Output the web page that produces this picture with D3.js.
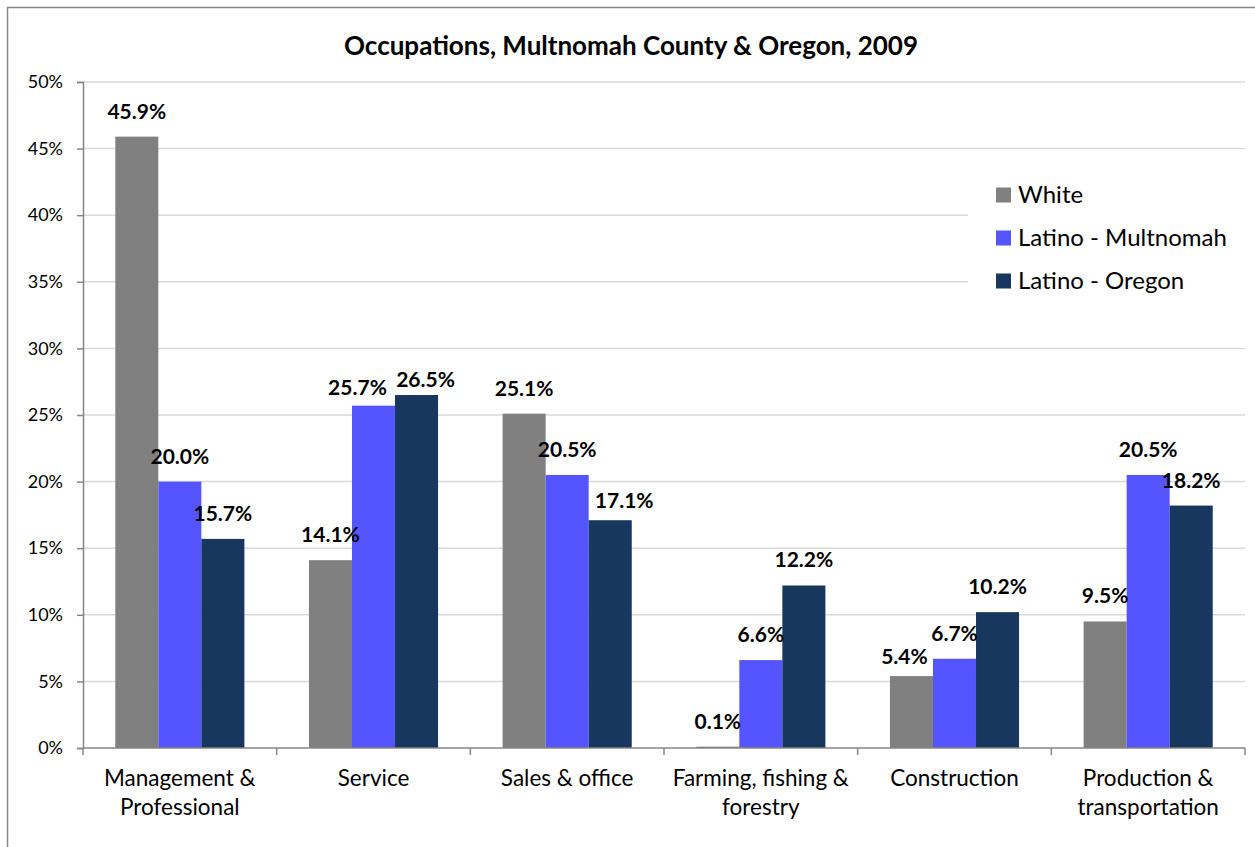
<html>
<head>
<style>
  body { margin: 0; background: #fff; }
  svg text { font-family: Lato, "Open Sans", sans-serif; fill: #000; }
</style>
</head>
<body>
<svg id="chart" width="1255" height="847"></svg>
<script src="https://cdnjs.cloudflare.com/ajax/libs/d3/7.8.5/d3.min.js"></script>
<script>
  // data
  var categories = ["Management & Professional", "Service", "Sales & office",
                    "Farming, fishing & forestry", "Construction", "Production & transportation"];
  var categoryLines = [["Management &", "Professional"], ["Service"], ["Sales & office"],
                       ["Farming, fishing &", "forestry"], ["Construction"], ["Production &", "transportation"]];
  var seriesNames = ["White", "Latino - Multnomah", "Latino - Oregon"];
  var white = [45.9, 14.1, 25.1, 0.1, 5.4, 9.5];
  var latinoMultnomah = [20.0, 25.7, 20.5, 6.6, 6.7, 20.5];
  var latinoOregon = [15.7, 26.5, 17.1, 12.2, 10.2, 18.2];
  var yTicks = [0, 5, 10, 15, 20, 25, 30, 35, 40, 45, 50];

  var colors = ["#808080", "#5555ff", "#17375e"];
  // hand-moved data labels in the original (dx, dy in px)
  var labelNudge = {"1|1": [-16, 7], "2|1": [9, 10], "2|2": [14, 6], "0|4": [-7, 6]};

  var values = [white, latinoMultnomah, latinoOregon];
  var svg = d3.select("#chart");

  // chart frame
  svg.append("rect").attr("x", 7.5).attr("y", 7.5).attr("width", 1270).attr("height", 900)
    .attr("fill", "none").attr("stroke", "#878787").attr("stroke-width", 1.5);

  var x0 = d3.scaleBand().domain(categories).range([83, 1245]).padding(0);
  var x1 = d3.scaleBand().domain(seriesNames).range([0, x0.bandwidth()]).paddingInner(0).paddingOuter(0.75);
  var y = d3.scaleLinear().domain([0, 50]).range([748, 82]);

  // gridlines
  svg.append("g").selectAll("line").data(yTicks.slice(1)).enter().append("line")
    .attr("x1", 83).attr("x2", 1245)
    .attr("y1", d => y(d)).attr("y2", d => y(d))
    .attr("stroke", "#d9d9d9").attr("stroke-width", 1.5);

  // y axis
  var yAxis = svg.append("g").attr("transform", "translate(83,0)")
    .call(d3.axisLeft(y).tickValues(yTicks).tickSize(6).tickPadding(14).tickFormat(d => d + "%"));
  yAxis.select(".domain").attr("stroke", "#868686").attr("stroke-width", 1.5);
  yAxis.selectAll(".tick line").attr("stroke", "#868686").attr("stroke-width", 1.5);
  yAxis.selectAll(".tick text").style("font-size", "18px").style("font-family", "Lato").attr("fill", "#000");

  // bars
  var groups = svg.append("g").selectAll("g").data(categories).enter().append("g")
    .attr("transform", d => "translate(" + x0(d) + ",0)");
  seriesNames.forEach(function (s, si) {
    groups.append("rect")
      .attr("x", x1(s)).attr("width", x1.bandwidth())
      .attr("y", (c, ci) => y(values[si][ci]))
      .attr("height", (c, ci) => y(0) - y(values[si][ci]))
      .attr("fill", colors[si]);
  });

  // data labels
  seriesNames.forEach(function (s, si) {
    groups.append("text")
      .attr("text-anchor", "middle")
      .attr("x", (c, ci) => x1(s) + x1.bandwidth() / 2 + (labelNudge[si + "|" + ci] || [0, 0])[0])
      .attr("y", (c, ci) => y(values[si][ci]) - 18 + (labelNudge[si + "|" + ci] || [0, 0])[1])
      .style("font-size", "21px").style("font-weight", "bold")
      .text((c, ci) => values[si][ci].toFixed(1) + "%");
  });

  // x axis
  svg.append("line").attr("x1", 83).attr("x2", 1245).attr("y1", 748).attr("y2", 748)
    .attr("stroke", "#868686").attr("stroke-width", 1.5);
  var bounds = categories.map(c => x0(c)).concat([1245]);
  svg.append("g").selectAll("line").data(bounds).enter().append("line")
    .attr("x1", d => d).attr("x2", d => d).attr("y1", 748).attr("y2", 755)
    .attr("stroke", "#868686").attr("stroke-width", 1.5);

  // category labels
  var cat = svg.append("g").selectAll("text").data(categories).enter().append("text")
    .attr("text-anchor", "middle")
    .attr("x", d => x0(d) + x0.bandwidth() / 2)
    .attr("y", 786)
    .style("font-size", "22.5px");
  cat.each(function (d, i) {
    var t = d3.select(this);
    categoryLines[i].forEach(function (line, li) {
      t.append("tspan").attr("x", x0(d) + x0.bandwidth() / 2).attr("dy", li ? 29 : 0).text(line);
    });
  });

  // title
  svg.append("text").attr("x", 631).attr("y", 55).attr("text-anchor", "middle")
    .style("font-size", "26px").style("font-weight", "bold")
    .text("Occupations, Multnomah County & Oregon, 2009");

  // legend
  var legend = svg.append("g");
  legend.append("rect").attr("x", 968).attr("y", 166).attr("width", 277).attr("height", 138).attr("fill", "#fff");
  var items = legend.selectAll("g").data(seriesNames).enter().append("g")
    .attr("transform", (d, i) => "translate(996," + [195, 238, 281][i] + ")");
  items.append("rect").attr("x", 0).attr("y", -7.5).attr("width", 15).attr("height", 15)
    .attr("fill", (d, i) => colors[i]);
  items.append("text").attr("x", 22).attr("y", 7.5).style("font-size", "24px").text(d => d);
</script>
</body>
</html>
